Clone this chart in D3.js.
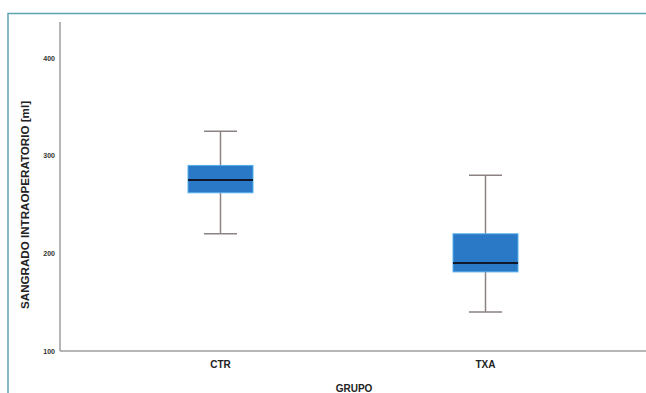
<!DOCTYPE html>
<meta charset="utf-8">
<style>
body { margin: 0; background: #fff; }
text { font-family: "Liberation Sans", Arial, sans-serif; }
</style>
<script src="https://cdn.jsdelivr.net/npm/d3@7"></script>
<body>
<script>
const groups = ['CTR', 'TXA'];
const whiskerLow = [220, 140];
const q1 = [262, 181];
const median = [275, 190];
const q3 = [290, 220];
const whiskerHigh = [325, 280];
const yTicks = [100, 200, 300, 400];

const W = 646, H = 393;
const svg = d3.select('body').append('svg')
  .attr('width', W).attr('height', H);

// teal frame (top + left)
svg.append('path')
  .attr('d', `M8,${H} V13.5 H${W}`)
  .attr('fill', 'none')
  .attr('stroke', '#5fa3b3')
  .attr('stroke-width', 1.5);

const axisX = 60, axisY = 351, axisTop = 22;

const yScale = d3.scaleLinear()
  .domain([100, 400])
  .range([axisY, 58]);

const xScale = d3.scaleBand()
  .domain(groups)
  .range([88, 618]);

// axes
svg.append('line')
  .attr('x1', axisX).attr('x2', axisX)
  .attr('y1', axisTop).attr('y2', axisY)
  .attr('stroke', '#a09c9c').attr('stroke-width', 1.5);
svg.append('line')
  .attr('x1', axisX).attr('x2', W)
  .attr('y1', axisY).attr('y2', axisY)
  .attr('stroke', '#a09c9c').attr('stroke-width', 1.5);

svg.selectAll('.ytick')
  .data(yTicks)
  .enter().append('text')
    .attr('x', axisX - 5)
    .attr('y', d => yScale(d) + 2.5)
    .attr('text-anchor', 'end')
    .style('font-size', '7px')
    .style('font-weight', 'bold')
    .style('fill', '#333')
    .text(d => d);

svg.selectAll('.xtick')
  .data(groups)
  .enter().append('text')
    .attr('x', d => xScale(d) + xScale.bandwidth() / 2)
    .attr('y', 368)
    .attr('text-anchor', 'middle')
    .style('font-size', '10px')
    .style('font-weight', 'bold')
    .style('fill', '#222')
    .text(d => d);

svg.append('text')
  .attr('x', 354).attr('y', 392)
  .attr('text-anchor', 'middle')
  .style('font-size', '10px')
  .style('font-weight', 'bold')
  .style('fill', '#222')
  .text('GRUPO');

svg.append('text')
  .attr('transform', 'translate(29,205) rotate(-90)')
  .attr('text-anchor', 'middle')
  .attr('textLength', 208)
  .attr('lengthAdjust', 'spacingAndGlyphs')
  .style('font-size', '10.5px')
  .style('font-weight', 'bold')
  .style('fill', '#222')
  .text('SANGRADO INTRAOPERATORIO [ml]');

// boxes
const boxW = 65, capW = 33;
const g = svg.selectAll('.box')
  .data(groups.map((d, i) => ({ name: d, lo: whiskerLow[i], q1: q1[i], med: median[i], q3: q3[i], hi: whiskerHigh[i] })))
  .enter().append('g');

const cx = d => xScale(d.name) + xScale.bandwidth() / 2;

g.append('line')
  .attr('x1', cx).attr('x2', cx)
  .attr('y1', d => yScale(d.hi)).attr('y2', d => yScale(d.lo))
  .attr('stroke', '#8c8282').attr('stroke-width', 1.5);
g.append('line')
  .attr('x1', d => cx(d) - capW / 2).attr('x2', d => cx(d) + capW / 2)
  .attr('y1', d => yScale(d.hi)).attr('y2', d => yScale(d.hi))
  .attr('stroke', '#8c8282').attr('stroke-width', 1.5);
g.append('line')
  .attr('x1', d => cx(d) - capW / 2).attr('x2', d => cx(d) + capW / 2)
  .attr('y1', d => yScale(d.lo)).attr('y2', d => yScale(d.lo))
  .attr('stroke', '#8c8282').attr('stroke-width', 1.5);

g.append('rect')
  .attr('x', d => cx(d) - boxW / 2)
  .attr('width', boxW)
  .attr('y', d => yScale(d.q3))
  .attr('height', d => yScale(d.q1) - yScale(d.q3))
  .attr('fill', '#2a79c6')
  .attr('stroke', '#55b0ec')
  .attr('stroke-width', 1);

g.append('line')
  .attr('x1', d => cx(d) - boxW / 2).attr('x2', d => cx(d) + boxW / 2)
  .attr('y1', d => yScale(d.med)).attr('y2', d => yScale(d.med))
  .attr('stroke', '#10182a').attr('stroke-width', 2);
</script>
</body>
</html>
